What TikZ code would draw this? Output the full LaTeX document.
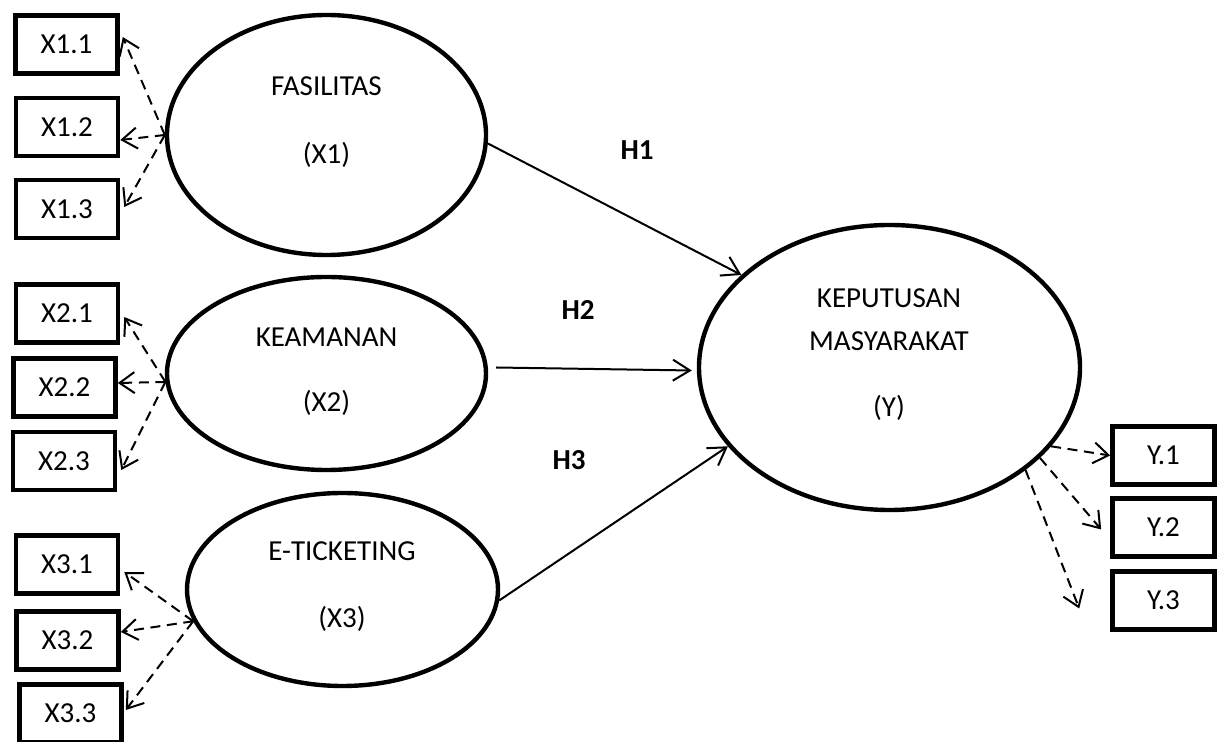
\documentclass[tikz,border=0pt]{standalone}
\usepackage{fontspec}
\setmainfont{Carlito}
\usetikzlibrary{shapes.geometric,arrows.meta}

\begin{document}
\begin{tikzpicture}[x=0.5pt,y=-0.5pt,
    every node/.style={font=\fontsize{14.5}{17}\selectfont},
    latent/.style={ellipse,draw,line width=2.2pt,inner sep=0pt},
    indicator/.style={rectangle,draw,line width=2.3pt,minimum width=51pt,minimum height=29pt,inner sep=0pt},
    hyp/.style={font=\fontsize{14.5}{17}\selectfont\bfseries},
    loading/.style={line width=1pt,dash pattern=on 5pt off 3.3pt,-{Straight Barb[length=7.5pt,width=10.5pt]}},
    effect/.style={line width=1pt,-{Straight Barb[length=8.5pt,width=10.5pt]}}]
    \clip (0,0) rectangle (1227,742);

    % Latent variables
    \node[latent,minimum width=159.5pt,minimum height=120pt] (fas) at (326.5,135) {};
    \node[latent,minimum width=159.5pt,minimum height=96.5pt] (kea) at (326.5,373.5) {};
    \node[latent,minimum width=155.5pt,minimum height=96.5pt] (eti) at (342.5,589.5) {};
    \node[latent,minimum width=190.5pt,minimum height=142.5pt] (kep) at (889.5,367.5) {};

    % Texts inside the ellipses
    \node (fasname) at (326.5,86) {FASILITAS};
    \node (fassym)  at (326.5,155) {(X1)};
    \node (keaname) at (326.5,337) {KEAMANAN};
    \node (keasym)  at (326.5,403) {(X2)};
    \node (etiname) at (342,551) {E-TICKETING};
    \node (etisym)  at (342,619) {(X3)};
    \node (kepname) at (889,298) {KEPUTUSAN};
    \node (kepname2) at (889,341) {MASYARAKAT};
    \node (kepsym)  at (889,408) {(Y)};

    % Indicators
    \node[indicator] (x11) at (66.5,44.5) {X1.1};
    \node[indicator] (x12) at (67,127) {X1.2};
    \node[indicator] (x13) at (67,209) {X1.3};
    \node[indicator] (x21) at (67,313.5) {X2.1};
    \node[indicator] (x22) at (64.5,387.5) {X2.2};
    \node[indicator] (x23) at (64,461) {X2.3};
    \node[indicator] (x31) at (67,564.5) {X3.1};
    \node[indicator] (x32) at (67.5,640.5) {X3.2};
    \node[indicator] (x33) at (70.5,713.5) {X3.3};
    \node[indicator] (y1) at (1163.5,455.5) {Y.1};
    \node[indicator] (y2) at (1163.5,527.5) {Y.2};
    \node[indicator] (y3) at (1163.5,600.5) {Y.3};

    % Loadings
    \draw[loading] (fas.west) -- ([xshift=1.5pt,yshift=3.75pt]x11.east);
    \draw[loading] (fas.west) -- ([yshift=-6.5pt]x12.east);
    \draw[loading] (fas.west) -- ([xshift=2pt,yshift=1pt]x13.east);
    \draw[loading] (kea.183) -- ([xshift=2pt,yshift=-1.75pt]x21.east);
    \draw[loading] (kea.183) -- ([yshift=2.25pt]x22.east);
    \draw[loading] (kea.183) -- ([xshift=2pt,yshift=-4.5pt]x23.east);
    \draw[loading] (eti.192) -- ([xshift=2pt,yshift=-3.75pt]x31.east);
    \draw[loading] (eti.192) -- ([yshift=4.25pt]x32.east);
    \draw[loading] (eti.192) -- ([xshift=1pt,yshift=1.75pt]x33.east);
    \draw[loading] (kep.334) -- (y1.west);
    \draw[loading] (kep.329) -- ([xshift=-4.5pt,yshift=-1pt]y2.west);
    \draw[loading] (kep.323) -- ([xshift=-15.5pt,yshift=-4pt]y3.west);

    % Hypotheses
    \draw[effect] (fas.357) -- (kep.148);
    \draw[effect] ([xshift=4pt,yshift=3pt]kea.east) -- ([xshift=-2.5pt,yshift=-1.5pt]kep.west);
    \draw[effect] (eti.356) -- (kep.206);
    \node[hyp] (h1) at (637,150) {H1};
    \node[hyp] (h2) at (578,310) {H2};
    \node[hyp] (h3) at (569,460) {H3};
  \end{tikzpicture}
\end{document}
